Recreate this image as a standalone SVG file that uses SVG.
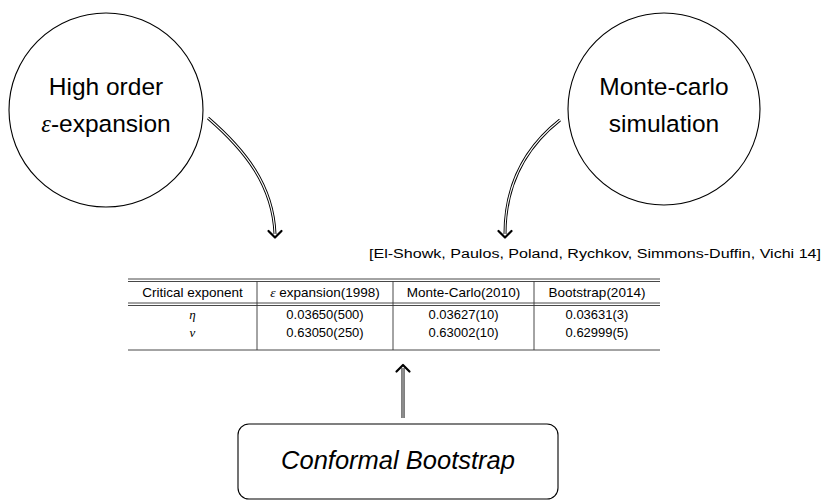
<svg xmlns="http://www.w3.org/2000/svg" width="823" height="502" viewBox="0 0 823 502">
<style>
text{font-family:"Liberation Sans","DejaVu Sans",sans-serif;fill:#000}
.big{font-size:24.5px}
.hdr{font-size:13.5px}
.cell{font-size:13px}
.math{font-family:"Liberation Serif","DejaVu Serif",serif;font-style:italic}
.node{fill:#fff;stroke:#000;stroke-width:1.1}
.tl{stroke:#333;stroke-width:0.9;fill:none}
.dbl-o{fill:none;stroke:#000;stroke-width:3}
.dbl-i{fill:none;stroke:#fff;stroke-width:1.1}
.head{fill:none;stroke:#000;stroke-width:2.2;stroke-linecap:round;stroke-linejoin:round}
</style>
<rect width="823" height="502" fill="#fff"/>
<g id="node-eps">
<circle class="node" cx="106" cy="110" r="97"/>
<text class="big" x="106" y="95" text-anchor="middle">High order</text>
<text class="big" x="106" y="132" text-anchor="middle"><tspan class="math">ε</tspan>-expansion</text>
</g>
<g id="node-mc">
<circle class="node" cx="664" cy="109" r="96"/>
<text class="big" x="664" y="95" text-anchor="middle">Monte-carlo</text>
<text class="big" x="664" y="132" text-anchor="middle">simulation</text>
</g>
<g id="citation">
<text x="595" y="258" text-anchor="middle" font-size="12.5" textLength="452" lengthAdjust="spacingAndGlyphs">[El-Showk, Paulos, Poland, Rychkov, Simmons-Duffin, Vichi 14]</text>
</g>
<g id="table">
<line class="tl" x1="128" y1="279" x2="660" y2="279"/>
<line class="tl" x1="128" y1="281.5" x2="660" y2="281.5"/>
<line class="tl" x1="128" y1="303" x2="660" y2="303"/>
<line class="tl" x1="128" y1="305.5" x2="660" y2="305.5"/>
<line class="tl" x1="128" y1="350" x2="660" y2="350"/>
<line class="tl" x1="257" y1="281.5" x2="257" y2="350"/>
<line class="tl" x1="393" y1="281.5" x2="393" y2="350"/>
<line class="tl" x1="534" y1="281.5" x2="534" y2="350"/>
<text class="hdr" x="192.5" y="297" text-anchor="middle">Critical exponent</text>
<text class="hdr" x="325" y="297" text-anchor="middle"><tspan class="math">ε</tspan> expansion(1998)</text>
<text class="hdr" x="463.5" y="297" text-anchor="middle">Monte-Carlo(2010)</text>
<text class="hdr" x="597" y="297" text-anchor="middle">Bootstrap(2014)</text>
<text class="cell math" x="192.5" y="319" text-anchor="middle">η</text>
<text class="cell" x="325" y="319" text-anchor="middle">0.03650(500)</text>
<text class="cell" x="463.5" y="319" text-anchor="middle">0.03627(10)</text>
<text class="cell" x="597" y="319" text-anchor="middle">0.03631(3)</text>
<text class="cell math" x="192.5" y="337" text-anchor="middle">ν</text>
<text class="cell" x="325" y="337" text-anchor="middle">0.63050(250)</text>
<text class="cell" x="463.5" y="337" text-anchor="middle">0.63002(10)</text>
<text class="cell" x="597" y="337" text-anchor="middle">0.62999(5)</text>
</g>
<g id="node-cb">
<rect class="node" x="238" y="424" width="320" height="75" rx="11"/>
<text x="398" y="469" text-anchor="middle" font-size="25.5" font-style="italic">Conformal Bootstrap</text>
</g>
<g id="connectors">
<path class="dbl-o" d="M208,118 C245,150 273,185 275,234"/>
<path class="dbl-i" d="M208,118 C245,150 273,185 275,234"/>
<path class="head" d="M268.5,231 L275,237.5 L281.5,231"/>
<path class="dbl-o" d="M560,120 C522,150 505,190 505,234"/>
<path class="dbl-i" d="M560,120 C522,150 505,190 505,234"/>
<path class="head" d="M498.5,231 L505,237.5 L511.5,231"/>
<path class="dbl-o" d="M403,418 L403,368"/>
<path class="dbl-i" d="M403,418 L403,368"/>
<path class="head" d="M396.5,371.5 L403,365 L409.5,371.5"/>
</g>
</svg>
